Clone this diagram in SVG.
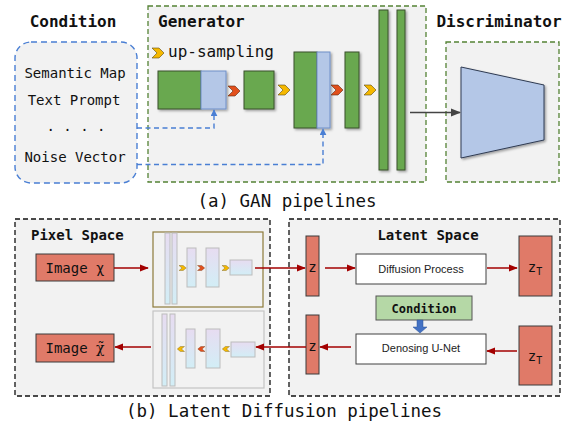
<svg xmlns="http://www.w3.org/2000/svg" width="565" height="421" viewBox="0 0 565 421">
<style>
.mono{font-family:"DejaVu Sans Mono","Liberation Mono",monospace;fill:#111}
.b{font-weight:bold}
.sans{font-family:"Liberation Sans",Arial,sans-serif;fill:#222}
.gdash{fill:#f2f2f2;stroke:#548235;stroke-width:1.3;stroke-dasharray:5 3}
.kdash{fill:#f2f2f2;stroke:#111;stroke-width:1.3;stroke-dasharray:5 3}
.green{fill:#69a84f;stroke:#3b4f2e;stroke-width:1}
.blue{fill:#b4c7e7;stroke:#6f8fc8;stroke-width:1}
.salmon{fill:#e07a68;stroke:#3a3a3a;stroke-width:1}
.white{fill:#fff;stroke:#404040;stroke-width:1}
.mini{fill:url(#mg);stroke:#bcbcbc;stroke-width:1}
.red{stroke:#a30000;stroke-width:1.5;fill:none}
.bdash{stroke:#4a7fd4;stroke-width:1.4;fill:none;stroke-dasharray:5 3.5}
.ychev{fill:#f5b800;stroke:#5a4a10;stroke-width:0.6}
.rchev{fill:#e2501c;stroke:#5a2a10;stroke-width:0.6}
</style>
<defs>
<filter id="sh" x="-30%" y="-30%" width="170%" height="170%"><feDropShadow dx="1.5" dy="1.5" stdDeviation="1" flood-color="#000" flood-opacity="0.35"/></filter>
<linearGradient id="mg" x1="0" y1="0" x2="0" y2="1"><stop offset="0" stop-color="#e7dcf1"/><stop offset="1" stop-color="#d2eef6"/></linearGradient>
<path id="chev" d="M0,0 H7 L12,5 L7,10 H0 L5,5 Z"/>
<marker id="ar" viewBox="0 0 10 10" refX="9" refY="5" markerWidth="6" markerHeight="6" orient="auto-start-reverse"><path d="M0,1 L10,5 L0,9 Z" fill="#a30000"/></marker>
<marker id="ag" viewBox="0 0 10 10" refX="9" refY="5" markerWidth="7" markerHeight="7" orient="auto"><path d="M0,1 L10,5 L0,9 Z" fill="#444"/></marker>
<marker id="ab" viewBox="0 0 10 10" refX="9" refY="5" markerWidth="5" markerHeight="5" orient="auto"><path d="M0,0 L10,5 L0,10 Z" fill="#4a7fd4"/></marker>
</defs>
<rect width="565" height="421" fill="#fff"/>

<g id="condition">
<text class="mono b" x="73" y="27" font-size="16" text-anchor="middle">Condition</text>
<rect x="15" y="42" width="122" height="141" rx="16" fill="#f2f2f2" stroke="#4a7fd4" stroke-width="1.4" stroke-dasharray="6 4"/>
<text class="mono" x="75" y="78" font-size="14" text-anchor="middle">Semantic Map</text>
<text class="mono" x="74" y="105" font-size="14" text-anchor="middle">Text Prompt</text>
<text class="mono" x="76" y="131" font-size="14" text-anchor="middle">. . . .</text>
<text class="mono" x="75" y="162" font-size="14" text-anchor="middle">Noise Vector</text>
</g>

<g id="generator">
<rect class="gdash" x="148" y="6" width="278" height="176"/>
<text class="mono b" x="158" y="27" font-size="16">Generator</text>
<use href="#chev" x="152" y="48" class="ychev"/>
<text class="mono" x="168" y="57" font-size="16">up-sampling</text>
<g filter="url(#sh)">
<rect class="green" x="158" y="71" width="43" height="38"/>
<rect class="blue" x="201" y="71" width="25" height="38"/>
<rect class="green" x="244" y="71" width="30" height="38"/>
<rect class="green" x="294" y="52" width="23" height="76"/>
<rect class="blue" x="317" y="52" width="13" height="76"/>
<rect class="green" x="345" y="52" width="14" height="76"/>
<rect class="green" x="379" y="10" width="9" height="160"/>
<rect class="green" x="397" y="10" width="8" height="160"/>
</g>
<use href="#chev" x="228" y="86" class="rchev"/>
<use href="#chev" x="278" y="85" class="ychev"/>
<use href="#chev" x="331" y="85" class="rchev"/>
<use href="#chev" x="364" y="85" class="ychev"/>
</g>

<g id="discriminator">
<text class="mono b" x="499" y="27" font-size="16" text-anchor="middle">Discriminator</text>
<rect class="gdash" x="446" y="42" width="113" height="140"/>
<polygon points="461,67 544,85 544,140 461,158" fill="#b4c7e7" stroke="#2f3b52" stroke-width="1" filter="url(#sh)"/>
</g>

<text id="caption-a" class="mono" x="287" y="207" font-size="17.5" text-anchor="middle">(a) GAN pipelines</text>

<g id="pixel-space">
<rect class="kdash" x="15" y="219" width="255" height="177"/>
<text class="mono b" x="31" y="240" font-size="14">Pixel Space</text>
</g>
<g id="image-x">
<rect class="salmon" x="36" y="254" width="78" height="27"/>
<text class="mono" x="75" y="273" font-size="14" text-anchor="middle">Image χ</text>
</g>
<g id="image-xt">
<rect class="salmon" x="36" y="334" width="78" height="28"/>
<text class="mono" x="75" y="353" font-size="14" text-anchor="middle">Image <tspan font-family="'DejaVu Serif',serif">χ̃</tspan></text>
</g>
<g id="encoder">
<rect x="153" y="232" width="110" height="75" fill="#f2f2f2" stroke="#8c7a3a" stroke-width="1.2"/>
<rect class="mini" x="165" y="233" width="5" height="71"/>
<rect class="mini" x="172" y="233" width="5" height="71"/>
<rect class="mini" x="187" y="248" width="9" height="39"/>
<rect class="mini" x="206" y="248" width="13" height="39"/>
<rect class="mini" x="230" y="260" width="22" height="15"/>
<use href="#chev" class="ychev" transform="translate(179,265.5) scale(0.6,0.5)"/>
<use href="#chev" class="rchev" transform="translate(197.5,265.5) scale(0.6,0.5)"/>
<use href="#chev" class="ychev" transform="translate(222,265.5) scale(0.6,0.5)"/>
</g>
<g id="decoder">
<rect x="153" y="311" width="111" height="77" fill="#f2f2f2" stroke="#c4c4c4" stroke-width="1.2"/>
<rect class="mini" x="162" y="314" width="5" height="72"/>
<rect class="mini" x="170" y="314" width="5" height="72"/>
<rect class="mini" x="186" y="329" width="9" height="39"/>
<rect class="mini" x="206" y="329" width="14" height="39"/>
<rect class="mini" x="231" y="342" width="24" height="15"/>
<use href="#chev" class="ychev" transform="translate(184.5,346.5) scale(-0.6,0.5)"/>
<use href="#chev" class="rchev" transform="translate(205,346.5) scale(-0.6,0.5)"/>
<use href="#chev" class="ychev" transform="translate(229.5,346.5) scale(-0.6,0.5)"/>
</g>

<g id="latent-space">
<rect class="kdash" x="289" y="219" width="271" height="177"/>
<text class="mono b" x="428" y="240" font-size="14" text-anchor="middle">Latent Space</text>
</g>
<g id="z-top">
<rect class="salmon" x="306" y="236" width="13" height="60"/>
<text class="mono" x="312.5" y="272" font-size="14" text-anchor="middle">z</text>
</g>
<g id="z-bottom">
<rect class="salmon" x="306" y="315" width="13" height="59"/>
<text class="mono" x="312.5" y="351" font-size="14" text-anchor="middle">z</text>
</g>
<g id="diffusion">
<rect class="white" x="356" y="254" width="130" height="30"/>
<text class="sans" x="421" y="273" font-size="11" text-anchor="middle">Diffusion Process</text>
</g>
<g id="denoising">
<rect class="white" x="356" y="334" width="130" height="30"/>
<text class="sans" x="421" y="352" font-size="11" text-anchor="middle">Denosing U-Net</text>
</g>
<g id="zt-top">
<rect class="salmon" x="519" y="236" width="33" height="60"/>
<text class="mono" x="535" y="272" font-size="14" text-anchor="middle">z<tspan font-size="10" dy="3">T</tspan></text>
</g>
<g id="zt-bottom">
<rect class="salmon" x="519" y="326" width="33" height="59"/>
<text class="mono" x="535" y="361" font-size="14" text-anchor="middle">z<tspan font-size="10" dy="3">T</tspan></text>
</g>
<g id="condition-ld">
<rect x="376" y="296" width="96" height="24" fill="#b5d8a6" stroke="#555" stroke-width="1"/>
<text class="mono b" x="424" y="313" font-size="12" text-anchor="middle">Condition</text>
</g>

<text id="caption-b" class="mono" x="284" y="417" font-size="17.5" text-anchor="middle">(b) Latent Diffusion pipelines</text>

<g id="connectors">
<path class="bdash" d="M137,128 H214 V110" marker-end="url(#ab)"/>
<path class="bdash" d="M137,164.5 H323 V129" marker-end="url(#ab)"/>
<line x1="410" y1="112.5" x2="460" y2="112.5" stroke="#444" stroke-width="1.5" marker-end="url(#ag)"/>
<line class="red" x1="114" y1="268" x2="148" y2="268" marker-end="url(#ar)"/>
<line class="red" x1="255" y1="268" x2="305" y2="268" marker-end="url(#ar)"/>
<line class="red" x1="325" y1="268" x2="355" y2="268" marker-end="url(#ar)"/>
<line class="red" x1="487" y1="268" x2="517" y2="268" marker-end="url(#ar)"/>
<line class="red" x1="517" y1="351" x2="487" y2="351" marker-end="url(#ar)"/>
<line class="red" x1="351" y1="347" x2="320" y2="347" marker-end="url(#ar)"/>
<line class="red" x1="306" y1="347" x2="256" y2="347" marker-end="url(#ar)"/>
<line class="red" x1="151" y1="347" x2="115" y2="347" marker-end="url(#ar)"/>
<path d="M417,320 H423 V327 H427 L420,333 L413,327 H417 Z" fill="#4472c4" stroke="#2f5597" stroke-width="0.5"/>
</g>
</svg>
